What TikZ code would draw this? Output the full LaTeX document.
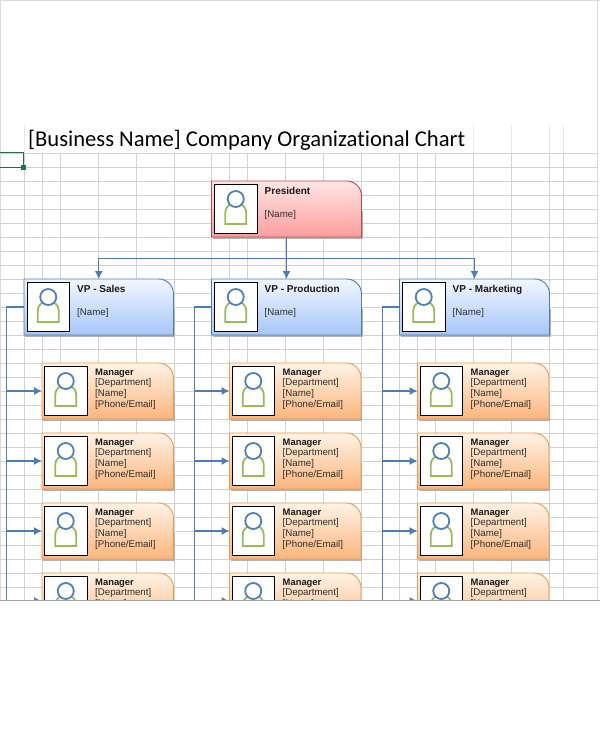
\documentclass[tikz,border=0pt]{standalone}
\usepackage{fontspec}
\setmainfont{Liberation Sans}
\newfontfamily\titlefont[Ligatures=NoCommon]{Carlito}
\usetikzlibrary{arrows.meta}
\definecolor{gridc}{HTML}{D2D2D2}
\definecolor{linkc}{HTML}{4A7EBB}
\definecolor{headc}{HTML}{4F81BD}
\definecolor{bodyc}{HTML}{9BBB59}
\definecolor{selc}{HTML}{217346}
\definecolor{redtop}{HTML}{FFE6E6}\definecolor{redbot}{HTML}{FF9C9C}\definecolor{redln}{HTML}{BE4B48}
\definecolor{blutop}{HTML}{F2F7FF}\definecolor{blubot}{HTML}{A6C6F8}\definecolor{bluln}{HTML}{4A7EBB}
\definecolor{orgtop}{HTML}{FFF3E6}\definecolor{orgbot}{HTML}{FBB57C}\definecolor{orgln}{HTML}{F79646}
\tikzset{
  x=1pt,y=-1pt,
  gridline/.style={draw=gridc,line width=0.9pt},
  frame/.style={draw=black!14,line width=0.8pt},
  boxbase/.style={minimum width=#1,inner sep=0pt,outer sep=0pt,anchor=north west},
  photo/.style={draw=black,fill=white,line width=1pt,minimum width=#1,inner sep=0pt,outer sep=0pt},
  link/.style={draw=linkc,line width=1.15pt},
  linkarrow/.style={link,-{Latex[length=8pt,width=8pt]}},
  trunk/.style={draw=linkc,line width=1.3pt},
  heading/.style={font=\fontsize{9.4}{11}\selectfont\bfseries,anchor=base west,inner sep=0pt,text=black!90},
  execheading/.style={font=\fontsize{10}{11}\selectfont\bfseries,anchor=base west,inner sep=0pt,text=black!90},
  detail/.style={font=\fontsize{9.7}{11}\selectfont,anchor=base west,inner sep=0pt,text=black!82},
}
% name, x, y, w, h, top colour, bottom colour, line colour
\newcommand{\orgbox}[8]{%
  \node[boxbase=#4pt,minimum height=#5pt] (#1) at (#2,#3) {};
  \fill[black!30] ([xshift=1pt,yshift=-2pt]#1.south west) rectangle ([xshift=1pt,yshift=-2pt]#1.east);
  \shadedraw[top color=#6,bottom color=#7,draw=#8,line width=0.9pt]
    (#1.south west) -- (#1.north west) -- ([xshift=-15pt]#1.north east)
    .. controls ([xshift=-6.5pt]#1.north east) and ([yshift=-6.5pt]#1.north east) .. ([yshift=-15pt]#1.north east)
    -- (#1.south east) -- cycle;
}
% name, photo x offset, photo y offset, photo width, photo height
\newcommand{\orgphoto}[5]{%
  \node[photo=#4pt,minimum height=#5pt,anchor=north west] (#1p) at ([xshift=#2pt,yshift=-#3pt]#1.north west) {};
  \begin{scope}[shift={(#1p.center)}]
    \draw[bodyc,line width=1.8pt] (-5.5,-4) .. controls (-9,-2) and (-10.5,1) .. (-10.5,5) -- (-10.5,15.5) -- (10.5,15.5) -- (10.5,5) .. controls (10.5,1) and (9,-2) .. (5.5,-4);
    \draw[headc,line width=1.8pt,fill=white] (0,-9.5) circle (8pt);
  \end{scope}
}
\newcommand{\execbox}[8]{% name,x,w,y,title,top,bot,line
  \orgbox{#1}{#2}{#4}{#3}{56}{#6}{#7}{#8}
  \orgphoto{#1}{3}{3}{42.5}{49}
  \node[execheading] (#1t) at ([xshift=53pt,yshift=-13pt]#1.north west) {#5};
  \node[detail] (#1n) at ([xshift=53pt,yshift=-36pt]#1.north west) {[Name]};
}
\newcommand{\mgrbox}[3]{% name,x,y
  \orgbox{#1}{#2}{#3}{131.5}{56}{orgtop}{orgbot}{orgln}
  \orgphoto{#1}{2.5}{3}{42.5}{49}
  \node[heading] (#1a) at ([xshift=53pt,yshift=-12pt]#1.north west) {Manager};
  \node[detail] (#1b) at ([xshift=53pt,yshift=-22pt]#1.north west) {[Department]};
  \node[detail] (#1c) at ([xshift=53pt,yshift=-33pt]#1.north west) {[Name]};
  \node[detail] (#1d) at ([xshift=53pt,yshift=-44pt]#1.north west) {[Phone/Email]};
}
\begin{document}
\begin{tikzpicture}
\useasboundingbox (0,0) rectangle (600,730);
\fill[white] (0,0) rectangle (600,730);
% page frame
\draw[frame] (0.4,0.4) -- (599.6,0.4);
\draw[frame] (0.4,0.4) -- (0.4,600);
\draw[frame] (597,0.4) -- (597,600);
% grid
\foreach \r in {153,167,...,595} \draw[gridline] (0,\r+0.5) -- (597,\r+0.5);
\foreach \c in {24,42,60,98,136,174,211.5,229.5,247.5,285.5,323.5,361.5,399.5,417.5,435.5,473.5,511.5,549.5,563}
  \draw[gridline] (\c,153) -- (\c,600);
\foreach \c in {24,473.5,511.5,549.5,563}
  \draw[draw=gridc!50,line width=0.8pt] (\c,125) -- (\c,153);
% selected cell
\draw[selc,line width=1.3pt] (0,152.5) -- (23.5,152.5) -- (23.5,167.5) -- (0,167.5);
\fill[selc] (21,165) rectangle (26,170);
% title
\node[font=\titlefont\fontsize{22.6}{26}\selectfont,anchor=base west,inner sep=0pt,text=black] (title) at (28,147) {[Business Name] Company Organizational Chart};
\begin{scope}
\clip (0,0) rectangle (600,600);
% boxes
\execbox{pres}{211.5}{150}{181}{President}{redtop}{redbot}{redln}
\execbox{vps}{24}{149.5}{279}{VP - Sales}{blutop}{blubot}{bluln}
\execbox{vpp}{211.5}{150}{279}{VP - Production}{blutop}{blubot}{bluln}
\execbox{vpm}{399.5}{150}{279}{VP - Marketing}{blutop}{blubot}{bluln}
\foreach \n/\x/\k in {s/42/vps,p/229.5/vpp,m/417.5/vpm}{
  \foreach \i/\y in {1/363,2/433,3/503,4/573}{
    \mgrbox{m\n\i}{\x}{\y}
  }
}
% connectors
\coordinate (bus) at (286.5,258.5);
\draw[link] (pres.south) -- (bus);
\draw[linkarrow] (bus) -| (vps.north);
\draw[linkarrow] (pres.south) -- (vpp.north);
\draw[linkarrow] (bus) -| (vpm.north);
\coordinate (ts) at (6.5,610);
\coordinate (tp) at (194.5,610);
\coordinate (tm) at (382.5,610);
\draw[trunk] (vps.west) -| (ts);
\draw[trunk] (vpp.west) -| (tp);
\draw[trunk] (vpm.west) -| (tm);
\foreach \n/\t in {s/ts,p/tp,m/tm}{
  \foreach \i in {1,2,3,4}{
    \draw[linkarrow] (\t |- m\n\i.west) -- (m\n\i.west);
  }
}
\end{scope}
\draw[draw=black!35,line width=0.9pt] (0,600.5) -- (600,600.5);
\end{tikzpicture}
\end{document}
